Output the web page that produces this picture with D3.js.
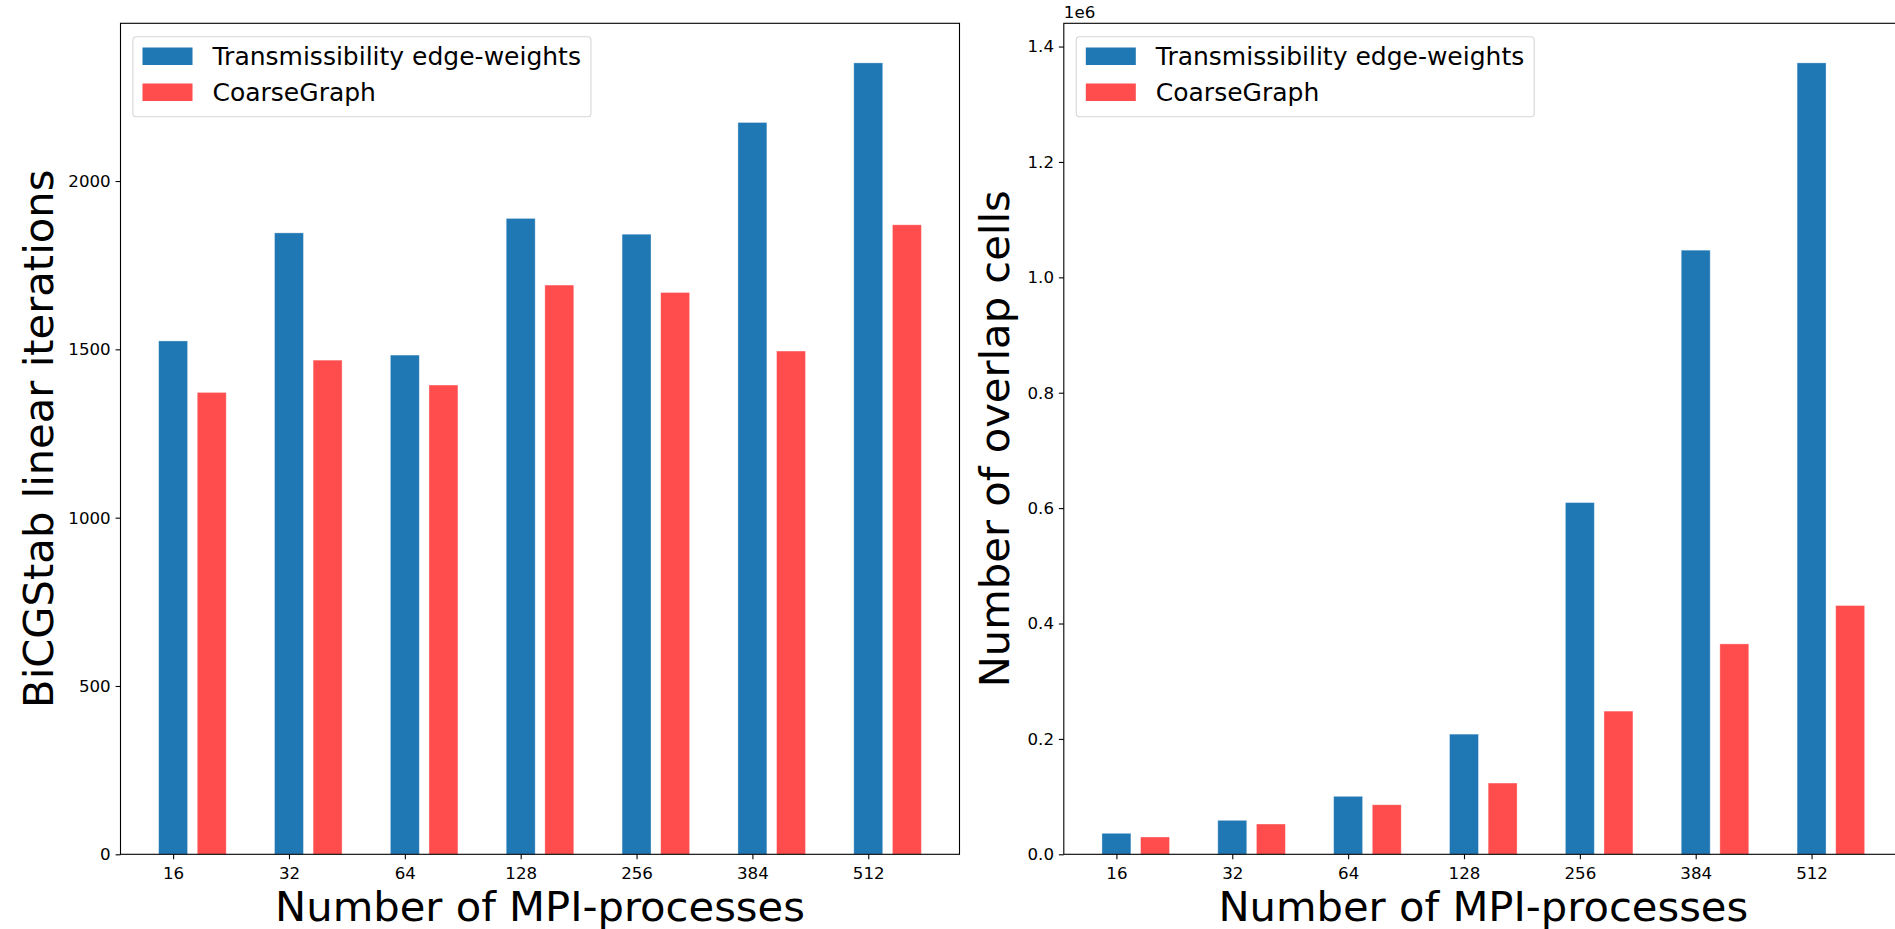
<!DOCTYPE html>
<html><head><meta charset="utf-8">
<script src="https://cdn.jsdelivr.net/npm/d3@7"></script>
<style>
body{margin:0;background:#fff;}
svg{display:block;font-family:"DejaVu Sans",sans-serif;}
</style>
</head><body>
<svg id="c" width="1895" height="929"></svg>
<script>
// ---- data ----
const categories = ["16", "32", "64", "128", "256", "384", "512"];
const seriesNames = ["Transmissibility edge-weights", "CoarseGraph"];
const seriesColors = ["#1f77b4", "#ff4d4d"];
const iterTransmissibility = [1525, 1846, 1483, 1889, 1842, 2174, 2351];
const iterCoarseGraph = [1372, 1468, 1394, 1691, 1669, 1495, 1870];
const overlapTransmissibility = [36400, 58900, 100500, 208300, 609600, 1047100, 1371700];
const overlapCoarseGraph = [30000, 52500, 85900, 123500, 248200, 364700, 431200];
const iterTicks = [0, 500, 1000, 1500, 2000];
const overlapTicks = [0, 200000, 400000, 600000, 800000, 1000000, 1200000, 1400000];
const xLabel = "Number of MPI-processes";
const iterLabel = "BiCGStab linear iterations";
const overlapLabel = "Number of overlap cells";

// ---- layout ----
const svg = d3.select("#c");
const FONT = '"DejaVu Sans", sans-serif';
const tickFont = 16.67, labelFont = 41.67, legendFont = 25;
const plotTop = 23.3, plotBottom = 854.3;
const groupStep = 3, barOffset = 1, barWidth = 0.75;

function panel(opts) {
  const {left, width, a, b, ticks, tickFmt, ylabel, ylabelX, offsetText} = opts;
  const n = categories.length;
  const lo = -barWidth / 2, hi = (n - 1) * groupStep + barOffset + barWidth / 2;
  const m = (hi - lo) * 0.05;
  const x = d3.scaleLinear().domain([lo - m, hi + m]).range([left, left + width]);
  const ymax = d3.max(a.concat(b)) * 1.05;
  const y = d3.scaleLinear().domain([0, ymax]).range([plotBottom, plotTop]);
  const g = svg.append("g");

  // bars
  [a, b].forEach((vals, s) => {
    g.append("g").selectAll("rect").data(vals).join("rect")
      .attr("x", (d, i) => x(i * groupStep + s * barOffset - barWidth / 2))
      .attr("width", (d, i) => x(i * groupStep + s * barOffset + barWidth / 2) - x(i * groupStep + s * barOffset - barWidth / 2))
      .attr("y", d => y(d))
      .attr("height", d => y(0) - y(d))
      .attr("fill", seriesColors[s])
      .attr("stroke", "#ffffff").attr("stroke-opacity", 0.45).attr("stroke-width", 0.8);
  });

  // axes
  const xa = g.append("g").attr("transform", `translate(0,${plotBottom})`)
    .call(d3.axisBottom(x).tickValues(categories.map((c, i) => i * groupStep))
      .tickFormat((d, i) => categories[i]).tickSize(4.9).tickPadding(7.5));
  const ya = g.append("g").attr("transform", `translate(${left},0)`)
    .call(d3.axisLeft(y).tickValues(ticks).tickFormat(tickFmt).tickSize(4.9).tickPadding(4.9));
  [xa, ya].forEach(ax => {
    ax.select(".domain").remove();
    ax.selectAll("line").attr("stroke", "#000").attr("stroke-width", 1.1);
    ax.selectAll("text").attr("font-family", FONT).attr("font-size", tickFont).attr("fill", "#000");
  });

  // spines
  g.append("rect").attr("x", left).attr("y", plotTop).attr("width", width).attr("height", plotBottom - plotTop)
    .attr("fill", "none").attr("stroke", "#000").attr("stroke-width", 1.1);

  // offset text
  if (offsetText) {
    g.append("text").attr("x", left).attr("y", 18.3).attr("font-size", tickFont)
      .attr("font-family", FONT).text(offsetText);
  }

  // axis labels
  g.append("text").attr("x", left + width / 2).attr("y", 920.7)
    .attr("text-anchor", "middle").attr("font-size", labelFont).attr("font-family", FONT).text(xLabel);
  g.append("text").attr("transform", `translate(${ylabelX},${(plotTop + plotBottom) / 2}) rotate(-90)`)
    .attr("text-anchor", "middle").attr("font-size", labelFont).attr("font-family", FONT).text(ylabel);

  // legend
  const lg = g.append("g");
  const boxX = left + 12.4, boxY = 36.7, boxH = 80;
  const box = lg.append("rect").attr("x", boxX).attr("y", boxY).attr("height", boxH)
    .attr("rx", 3.5).attr("fill", "#fff").attr("fill-opacity", 0.8)
    .attr("stroke", "#cccccc").attr("stroke-opacity", 0.8).attr("stroke-width", 1.1);
  let maxLen = 0;
  seriesNames.forEach((name, s) => {
    const base = 65 + s * 36;
    lg.append("rect").attr("x", left + 22).attr("y", base - 17.5)
      .attr("width", 50).attr("height", 17.5).attr("fill", seriesColors[s]);
    const t = lg.append("text").attr("x", left + 92).attr("y", base)
      .attr("font-size", legendFont).attr("font-family", FONT).text(name);
    maxLen = Math.max(maxLen, t.node().getComputedTextLength());
  });
  box.attr("width", (left + 92 - boxX) + maxLen + 10);
}

panel({left: 120.5, width: 839, a: iterTransmissibility, b: iterCoarseGraph,
  ticks: iterTicks, tickFmt: d3.format("d"), ylabel: iterLabel, ylabelX: 53});
panel({left: 1063.8, width: 839, a: overlapTransmissibility, b: overlapCoarseGraph,
  ticks: overlapTicks, tickFmt: d => (d / 1e6).toFixed(1), ylabel: overlapLabel, ylabelX: 1009,
  offsetText: "1e6"});
</script>
</body></html>
